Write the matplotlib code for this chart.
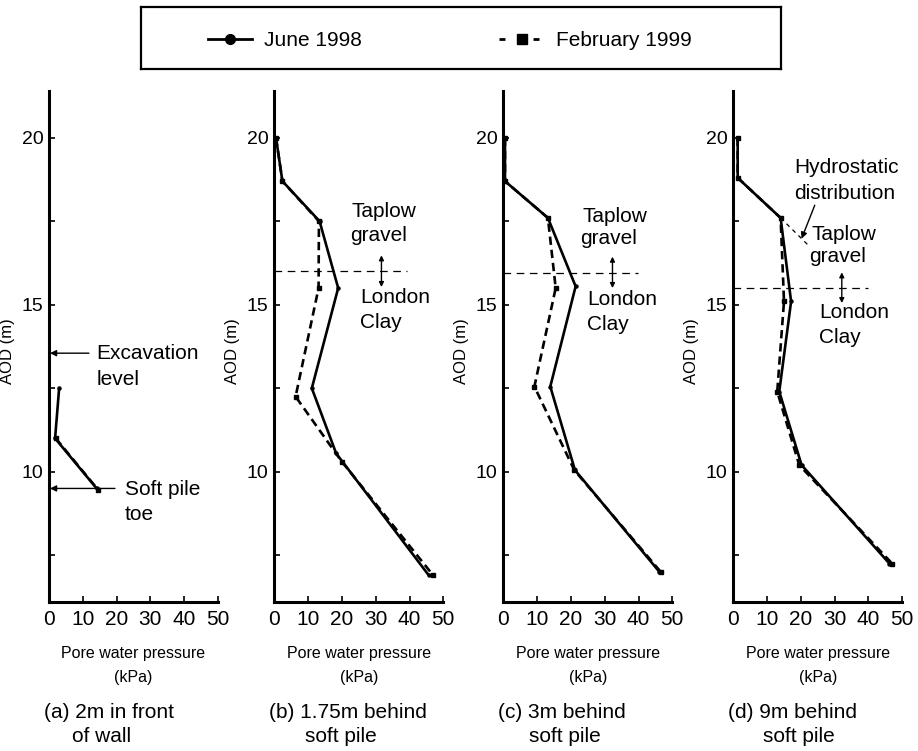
import matplotlib
matplotlib.use("Agg")
import matplotlib.pyplot as plt
from matplotlib.lines import Line2D

plt.rcParams['font.family'] = ['Liberation Sans', 'DejaVu Sans']
plt.rcParams['lines.scale_dashes'] = False

# ---------------- data ----------------
panel_captions = [("(a) 2m in front", "of wall"),
                  ("(b) 1.75m behind", "soft pile"),
                  ("(c) 3m behind", "soft pile"),
                  ("(d) 9m behind", "soft pile")]

june_a_p = [3.0, 1.8, 14.1]
june_a_z = [12.5, 11.0, 9.5]
feb_a_p = [2.0, 14.6]
feb_a_z = [11.0, 9.45]

june_b_p = [0.5, 2.4, 13.4, 18.9, 11.1, 18.3, 45.7]
june_b_z = [20.0, 18.7, 17.5, 15.5, 12.5, 10.55, 6.9]
feb_b_p = [0.5, 2.4, 13.2, 13.1, 6.3, 20.0, 47.0]
feb_b_z = [20.0, 18.7, 17.5, 15.5, 12.25, 10.3, 6.9]

june_c_p = [0.5, 0.5, 13.2, 21.4, 13.9, 21.2, 46.2]
june_c_z = [20.0, 18.7, 17.6, 15.55, 12.55, 10.05, 7.0]
feb_c_p = [0.5, 0.5, 13.2, 15.5, 9.2, 21.0, 46.6]
feb_c_z = [20.0, 18.7, 17.6, 15.5, 12.55, 10.05, 7.0]

june_d_p = [1.3, 1.3, 14.0, 17.1, 13.6, 20.2, 46.2]
june_d_z = [20.0, 18.8, 17.6, 15.1, 12.4, 10.2, 7.25]
feb_d_p = [1.3, 1.3, 14.0, 15.0, 13.0, 19.5, 47.0]
feb_d_z = [20.0, 18.8, 17.6, 15.1, 12.4, 10.2, 7.25]

hydro_d_p = [14.0, 22.0]
hydro_d_z = [17.6, 16.8]

june_p = [june_a_p, june_b_p, june_c_p, june_d_p]
june_z = [june_a_z, june_b_z, june_c_z, june_d_z]
feb_p = [feb_a_p, feb_b_p, feb_c_p, feb_d_p]
feb_z = [feb_a_z, feb_b_z, feb_c_z, feb_d_z]

# layer boundary (Taplow gravel / London Clay) for panels b, c, d
boundary_z = [None, 16.0, 15.95, 15.5]
boundary_end_p = [None, 39.3, 39.8, 40.0]

x_ticks = [0, 10, 20, 30, 40, 50]
y_major = [10, 15, 20]
y_minor = [7.5, 12.5, 17.5]

legend_labels = ["June 1998", "February 1999"]

# ---------------- layout ----------------
W, H = 918, 751
fig = plt.figure(figsize=(W / 100, H / 100), dpi=100)
fig.patch.set_facecolor('white')

ax_left_px = [49, 274.3, 503.3, 733.3]
ax_w_px = 169
ax_bottom_px = 602
ax_top_px = 91
ax_h_px = ax_bottom_px - ax_top_px
cap2_dx = [23, 31, 26, 30]

TXT = 15
axes = []
for i in range(4):
    ax = fig.add_axes([ax_left_px[i] / W, 1 - ax_bottom_px / H, ax_w_px / W, ax_h_px / H])
    axes.append(ax)
    ax.set_xlim(0, 50)
    ax.set_ylim(6.1, 21.4)
    for s in ['top', 'right']:
        ax.spines[s].set_visible(False)
    for s in ['left', 'bottom']:
        ax.spines[s].set_linewidth(2.2)
    ax.set_xticks(x_ticks)
    ax.set_yticks(y_major)
    ax.set_yticks(y_minor, minor=True)
    ax.tick_params(axis='both', which='both', direction='in', length=4, width=1.2)
    ax.tick_params(axis='x', labelsize=15, pad=5.5)
    ax.tick_params(axis='y', labelsize=14, pad=4)
    ax.set_ylabel("AOD (m)", fontsize=12)
    ax.yaxis.set_label_coords(-34 / ax_w_px, 0.49)

    ax.plot(june_p[i], june_z[i], color='black', lw=1.9, marker='o', ms=2.2,
            solid_joinstyle='miter', zorder=3)
    ax.plot(feb_p[i], feb_z[i], color='black', lw=1.9, marker='s', ms=2.2,
            dashes=(6, 3.5), zorder=3)

    ax.text(0.5, (ax_bottom_px - 658.3) / ax_h_px, "Pore water pressure",
            transform=ax.transAxes, ha='center', va='baseline', fontsize=11.5)
    ax.text(0.5, (ax_bottom_px - 682.3) / ax_h_px, "(kPa)",
            transform=ax.transAxes, ha='center', va='baseline', fontsize=11.5)
    ax.text(-5 / ax_w_px, (ax_bottom_px - 718.3) / ax_h_px, panel_captions[i][0],
            transform=ax.transAxes, ha='left', va='baseline', fontsize=TXT)
    ax.text(cap2_dx[i] / ax_w_px, (ax_bottom_px - 741.7) / ax_h_px, panel_captions[i][1],
            transform=ax.transAxes, ha='left', va='baseline', fontsize=TXT)

    if boundary_z[i] is not None:
        ax.plot([0, boundary_end_p[i]], [boundary_z[i], boundary_z[i]], color='black',
                lw=0.9, dashes=(5.5, 4), zorder=2)

arrow_single = dict(arrowstyle='-|>', color='black', lw=1.0, mutation_scale=9,
                    shrinkA=0, shrinkB=0)
arrow_double = dict(arrowstyle='<|-|>', color='black', lw=1.0, mutation_scale=7,
                    shrinkA=0, shrinkB=0)

# panel (a) annotations
ax = axes[0]
ax.annotate("", xy=(0.3, 13.55), xytext=(11.8, 13.55), arrowprops=arrow_single)
ax.annotate("", xy=(0.3, 9.5), xytext=(19.5, 9.5), arrowprops=arrow_single)
ax.text(14.1, 13.39, "Excavation", fontsize=TXT, va='baseline')
ax.text(14.1, 12.61, "level", fontsize=TXT, va='baseline')
ax.text(22.4, 9.31, "Soft pile", fontsize=TXT, va='baseline')
ax.text(22.4, 8.56, "toe", fontsize=TXT, va='baseline')

# panel (b)
ax = axes[1]
ax.annotate("", xy=(31.7, 15.53), xytext=(31.7, 16.48), arrowprops=arrow_double)
ax.text(22.7, 17.62, "Taplow", fontsize=TXT, va='baseline')
ax.text(22.3, 16.92, "gravel", fontsize=TXT, va='baseline')
ax.text(25.4, 15.04, "London", fontsize=TXT, va='baseline')
ax.text(25.4, 14.29, "Clay", fontsize=TXT, va='baseline')

# panel (c)
ax = axes[2]
ax.annotate("", xy=(32.3, 15.5), xytext=(32.3, 16.44), arrowprops=arrow_double)
ax.text(23.4, 17.48, "Taplow", fontsize=TXT, va='baseline')
ax.text(22.7, 16.83, "gravel", fontsize=TXT, va='baseline')
ax.text(24.9, 14.98, "London", fontsize=TXT, va='baseline')
ax.text(24.9, 14.24, "Clay", fontsize=TXT, va='baseline')

# panel (d)
ax = axes[3]
ax.plot(hydro_d_p, hydro_d_z, color='black', lw=0.9, dashes=(3, 3), zorder=2)
ax.annotate("", xy=(20.2, 16.98), xytext=(24.1, 17.98), arrowprops=arrow_single)
ax.annotate("", xy=(32.1, 15.05), xytext=(32.1, 15.97), arrowprops=arrow_double)
ax.text(18.0, 18.93, "Hydrostatic", fontsize=TXT, va='baseline')
ax.text(18.0, 18.18, "distribution", fontsize=TXT, va='baseline')
ax.text(23.2, 16.95, "Taplow", fontsize=TXT, va='baseline')
ax.text(22.5, 16.28, "gravel", fontsize=TXT, va='baseline')
ax.text(25.4, 14.59, "London", fontsize=TXT, va='baseline')
ax.text(25.4, 13.84, "Clay", fontsize=TXT, va='baseline')

# ---------------- legend box ----------------
lg_l, lg_r, lg_t, lg_b = 141, 781, 7, 69
ax_leg = fig.add_axes([lg_l / W, 1 - lg_b / H, (lg_r - lg_l) / W, (lg_b - lg_t) / H])
ax_leg.set_xticks([])
ax_leg.set_yticks([])
for s in ax_leg.spines.values():
    s.set_linewidth(1.6)
h1 = Line2D([], [], color='black', lw=2.0, marker='o', ms=7)
h2 = Line2D([], [], color='black', lw=2.0, marker='s', ms=6.5, dashes=(4.3, 20.2))
ax_leg.legend([h1, h2], legend_labels, loc='center',
              bbox_to_anchor=((449.5 - lg_l) / (lg_r - lg_l), (lg_b - 41) / (lg_b - lg_t)),
              ncol=2, frameon=False, fontsize=15, handlelength=2.15,
              handletextpad=0.55, columnspacing=6.6, borderpad=0, borderaxespad=0)

fig.savefig("out.png", dpi=100, facecolor='white')
